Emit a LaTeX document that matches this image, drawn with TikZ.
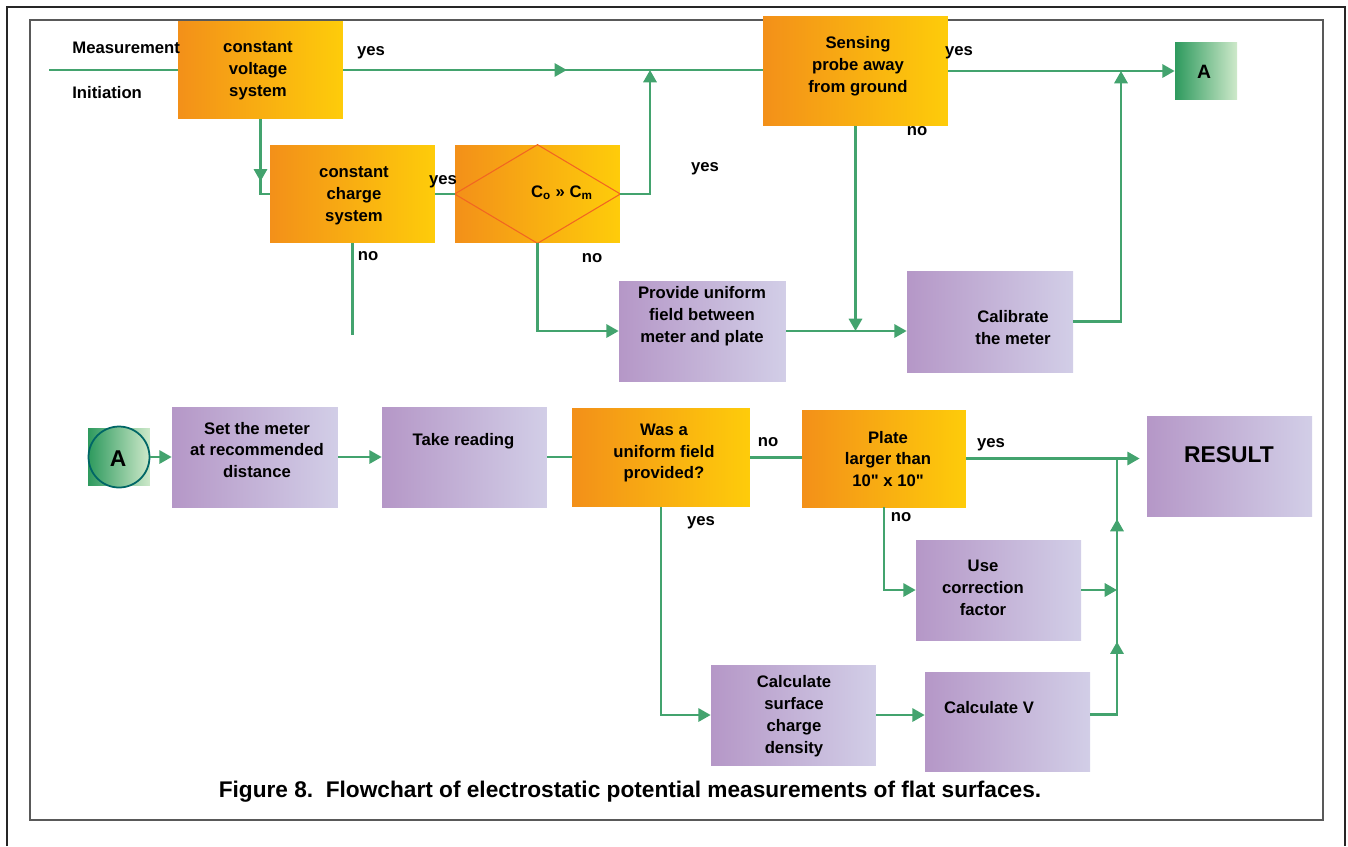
\documentclass[tikz,border=0pt]{standalone}
\usepackage{fontspec}
\setmainfont{Liberation Sans}[Ligatures=TeXOff]
\usetikzlibrary{arrows.meta,decorations.markings}

\definecolor{orleft}{RGB}{243,144,25}
\definecolor{orright}{RGB}{254,204,10}
\definecolor{puleft}{RGB}{181,151,199}
\definecolor{puright}{RGB}{210,206,231}
\definecolor{grleft}{RGB}{46,154,94}
\definecolor{grright}{RGB}{206,233,202}
\definecolor{flowgreen}{RGB}{67,163,110}
\definecolor{diaedge}{RGB}{242,101,34}

\begin{document}
\begin{tikzpicture}[
    x=0.02cm, y=-0.02cm,
    >={Triangle[length=7pt,width=7.5pt]},
    obox/.style={rectangle, inner sep=0pt, left color=orleft, right color=orright, minimum width=3.3cm, minimum height=1.96cm},
    pbox/.style={rectangle, inner sep=0pt, left color=puleft, right color=puright, minimum width=3.3cm, minimum height=2cm},
    gbox/.style={rectangle, inner sep=0pt, left color=grleft, right color=grright, minimum width=1.24cm, minimum height=1.14cm},
    txt/.style={align=center, inner sep=0pt, font=\bfseries\fontsize{9.5}{12.5}\selectfont},
    lab/.style={inner sep=0pt, font=\bfseries\fontsize{9.5}{12.5}\selectfont},
    flow/.style={draw=flowgreen, line width=1.5pt},
    arrowat/.style={postaction={decorate, decoration={markings, mark=at position #1 with {\arrow[flowgreen]{>}}}}}
]

% frames
\useasboundingbox (0,0) rectangle (1348,846);
\draw[line width=1.3pt, black!85] (7,846) -- (7,7) -- (1345,7) -- (1345,846);
\draw[line width=1.3pt, black!65] (30,20) rectangle (1323,820);

% upper part
\node[obox] (cv) at (260.5,70) {};
\node[obox] (cc) at (352.5,194) {};
\node[obox] (co) at (537.5,194) {};
\draw[diaedge, line width=0.6pt] (co.north) -- (co.east) -- (co.south) -- (co.west) -- cycle;
\node[obox, minimum width=3.7cm, minimum height=2.18cm] (sense) at (855.5,71) {};
\node[gbox] (atop) at (1206,71) {};
\node[pbox, minimum width=3.34cm] (prov) at (702.5,331) {};
\node[pbox, minimum width=3.32cm, minimum height=2.02cm] (cal) at (990,321.5) {};

\node[txt] (cv-t) at (258,71) {constant\\voltage\\system};
\node[txt] (cc-t) at (354,196) {constant\\charge\\system};
\node[txt] (co-t) at (562,193) {C\textsubscript{o} » C\textsubscript{m}};
\node[txt] (sense-t) at (858,66) {Sensing\\probe away\\from ground};
\node[txt, font=\bfseries\fontsize{11}{13}\selectfont] (atop-t) at (1204,72) {A};
\node[txt] (prov-t) at (702,316) {Provide uniform\\field between\\meter and plate};
\node[txt] (cal-t) at (1013,328) {Calibrate\\the meter};

\node[lab, anchor=west] (meas) at (72,48) {Measurement};
\node[lab, anchor=west] (init) at (72,93) {Initiation};

\coordinate (start) at (49,70);
\coordinate (j1) at (650,70);
\coordinate (j2) at (1121,71);
\coordinate (ccend) at (352.5,335);

\draw[flow] (start) -- (cv.west);
\draw[flow, arrowat=0.533] (cv.east) -- (cv.east -| sense.west);
\draw[flow, ->] (co.east) -| (j1);
\draw[flow, arrowat=0.74] (cv.south) |- (cc.west);
\draw[flow] (cc.east) -- (co.west);
\draw[flow] (cc.south) -- (ccend);
\draw[flow, ->] (co.south) |- (prov.west);
\draw[flow, ->] (sense.south) -- (sense.south |- prov.east);
\draw[flow, ->] (prov.east) -- (prov.east -| cal.west);
\draw[flow, ->] (sense.east) -- (atop.west);
\draw[flow, ->] (cal.east) -| (j2);

\node[lab] (yes1) at (371,53) {yes};
\node[lab] (yes2) at (443,182) {yes};
\node[lab] (no1) at (368,256) {no};
\node[lab] (no2) at (592,258) {no};
\node[lab] (yes3) at (705,169) {yes};
\node[lab] (yes4) at (959,53) {yes};
\node[lab] (no3) at (917,131) {no};

% lower part
\node[gbox] (asq) at (119,456.5) {};
\node[circle, draw=teal!80!black, line width=1pt, minimum size=1.22cm, inner sep=0pt, left color=grleft, right color=grright] (acirc) at (119,457) {};
\node[pbox, minimum width=3.32cm] (set) at (255,457) {};
\node[pbox] (take) at (464.5,457) {};
\node[obox, minimum width=3.56cm] (was) at (661,457.5) {};
\node[obox, minimum width=3.28cm, minimum height=1.94cm] (plate) at (884,458.5) {};
\node[pbox] (res) at (1229.5,466) {};
\node[pbox] (use) at (998.5,590) {};
\node[pbox] (csd) at (793.5,715) {};
\node[pbox, minimum height=1.98cm] (calv) at (1007.5,721.5) {};

\node[txt, font=\bfseries\fontsize{13}{15}\selectfont] (acirc-t) at (118,459) {A};
\node[txt] (set-t) at (257,450) {Set the meter\\at recommended\\distance};
\node[txt] (take-t) at (463.5,441) {Take reading};
\node[txt] (was-t) at (664,453) {Was a\\uniform field\\provided?};
\node[txt] (plate-t) at (888,459) {Plate\\larger than\\10" x 10"};
\node[txt, font=\bfseries\fontsize{13}{15}\selectfont] (res-t) at (1229,455) {RESULT};
\node[txt] (use-t) at (983,588) {Use\\correction\\factor};
\node[txt] (csd-t) at (794,716) {Calculate\\surface\\charge\\density};
\node[txt] (calv-t) at (989,708) {Calculate V};

\coordinate (j3) at (1117,458.5);

\draw[flow, ->] (acirc.east) -- (set.west);
\draw[flow, ->] (set.east) -- (take.west);
\draw[flow] (take.east) -- (take.east -| was.west);
\draw[flow] (was.east) -- (was.east -| plate.west);
\draw[flow, ->, shorten >=4pt] (plate.east) -- (plate.east -| res.west);
\draw[flow, ->] (was.south) |- (csd.west);
\draw[flow, ->] (plate.south) |- (use.west);
\draw[flow, ->] (csd.east) -- (csd.east -| calv.west);
\draw[flow, ->] (use.east) -- (use.east -| j3);
\draw[flow, arrowat=0.352, arrowat=0.786] ([yshift=4pt]calv.east) -| (j3);

\node[lab] (no4) at (768,442) {no};
\node[lab] (yes5) at (991,445) {yes};
\node[lab] (yes6) at (701,523) {yes};
\node[lab] (no5) at (901,517) {no};

% caption
\node[lab, font=\bfseries\fontsize{12.9}{15}\selectfont] (cap) at (630,792) {Figure 8.\ \ Flowchart of electrostatic potential measurements of flat surfaces.};

\end{tikzpicture}
\end{document}
